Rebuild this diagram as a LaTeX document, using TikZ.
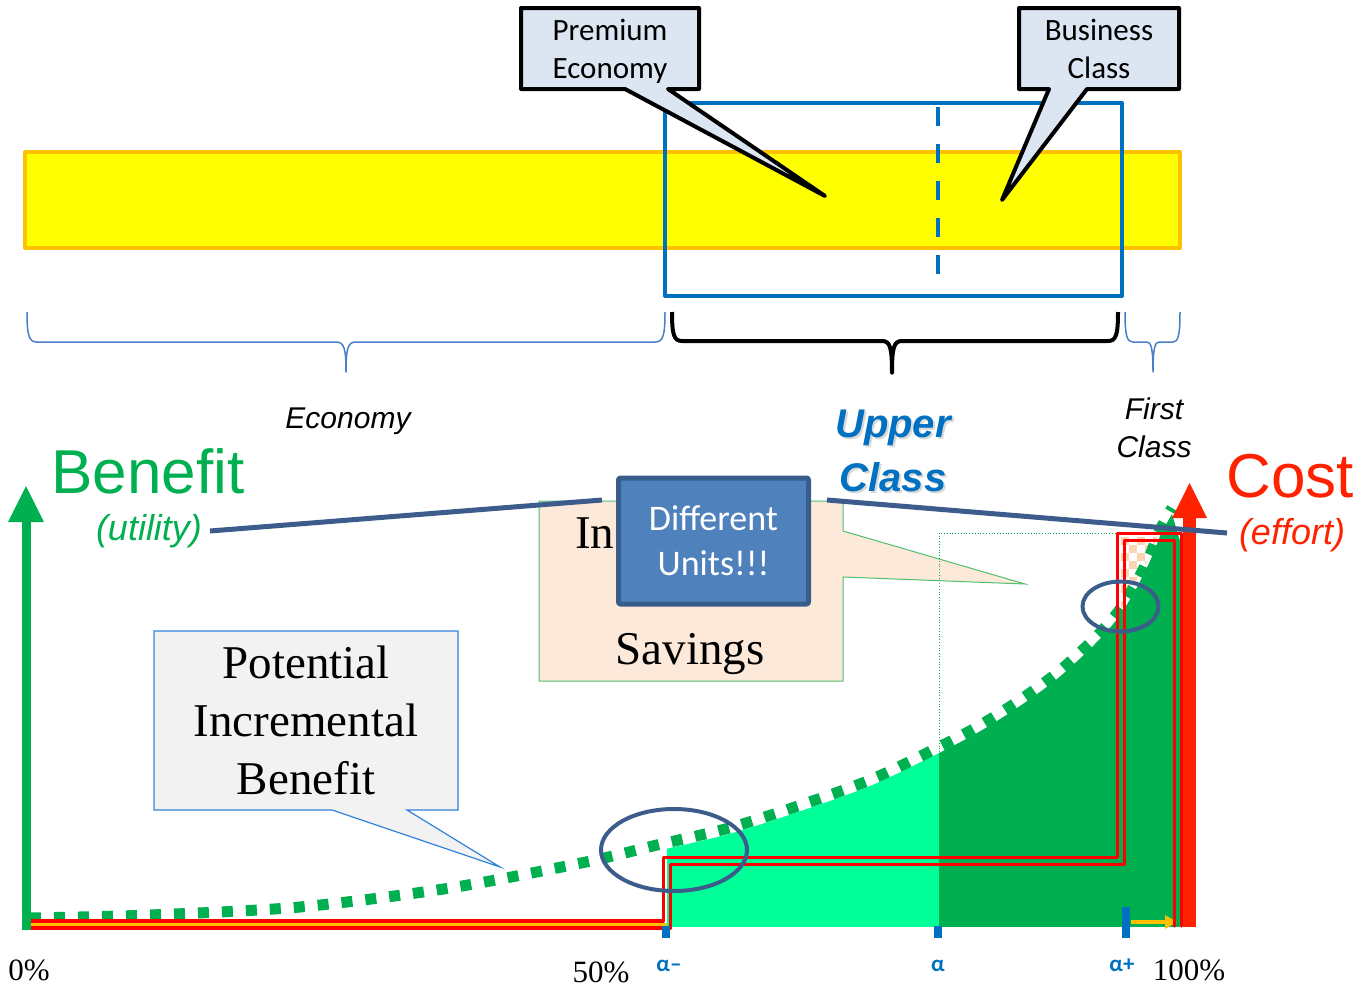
\documentclass[tikz,border=0pt]{standalone}
\usepackage{fontspec}
\setmainfont{Liberation Serif}
\newfontfamily\arialf{Liberation Sans}
\newfontfamily\calf{Carlito}
\usetikzlibrary{arrows.meta}
\definecolor{barYellow}{RGB}{255,255,0}
\definecolor{barOrange}{RGB}{255,192,0}
\definecolor{msBlue}{RGB}{0,112,192}
\definecolor{calloutFill}{RGB}{220,230,242}
\definecolor{benGreen}{RGB}{0,176,80}
\definecolor{mint}{RGB}{0,255,153}
\definecolor{costRed}{RGB}{255,34,0}
\definecolor{stepRed}{RGB}{255,0,0}
\definecolor{darkLine}{RGB}{60,92,140}
\definecolor{unitFill}{RGB}{79,129,189}
\definecolor{unitDraw}{RGB}{56,93,138}
\definecolor{peach}{RGB}{253,233,217}
\definecolor{checkPeach}{RGB}{251,212,180}
\definecolor{greyFill}{RGB}{242,242,242}
\definecolor{thinBlue}{RGB}{50,130,220}
\definecolor{braceBlue}{RGB}{74,126,200}
\definecolor{savGreen}{RGB}{80,190,110}
\tikzset{
  bracethin/.style={draw=braceBlue, line width=1.5pt},
  bracethick/.style={draw=black, line width=4pt},
  calltxt/.style={inner sep=0pt, anchor=base, font=\calf\fontsize{31}{38}\selectfont},
  steplinered/.style={draw=stepRed, line width=3.5pt, line join=round, line cap=round},
  ticktxt/.style={inner sep=0pt, anchor=base, text=msBlue, font=\calf\bfseries\fontsize{23}{26}\selectfont},
  pcttxt/.style={inner sep=0pt, anchor=base, font=\fontsize{31}{36}\selectfont},
  serifbig/.style={inner sep=0pt, font=\fontsize{47}{58}\selectfont}
}
\begin{document}
\begin{tikzpicture}[x=1pt,y=-1pt,line join=round]
\useasboundingbox (0,0) rectangle (1366,988);

% ---------- top band ----------
\draw[barOrange, line width=4pt, fill=barYellow] (25,152) rectangle (1180,248);
\draw[msBlue, line width=4pt] (665,103) rectangle (1122,296);
\draw[msBlue, line width=4pt, dash pattern=on 19pt off 18pt] (938,107) -- (938,278);

% Premium Economy callout
\draw[black, line width=4pt, fill=calloutFill]
  (521,8) -- (699,8) -- (699,89) -- (668,89) -- (825,196) -- (625,89) -- (521,89) -- cycle;
\node[calltxt] (prem1) at (610,40) {Premium};
\node[calltxt] (prem2) at (610,78) {Economy};

% Business Class callout
\draw[black, line width=4pt, fill=calloutFill]
  (1019,8) -- (1179,8) -- (1179,89) -- (1087,89) -- (1002,200) -- (1049,89) -- (1019,89) -- cycle;
\node[calltxt] (bus1) at (1099,40) {Business};
\node[calltxt] (bus2) at (1099,78) {Class};

% ---------- braces ----------
\draw[bracethin] (27,312) .. controls (27,336) and (29,342) .. (37,342) -- (336,342)
  .. controls (344,342) and (346,348) .. (346,372)
  .. controls (346,348) and (348,342) .. (356,342) -- (655,342)
  .. controls (663,342) and (665,336) .. (665,312);
\draw[bracethick] (672,312) .. controls (672,335) and (674,341) .. (682,341) -- (882,341)
  .. controls (890,341) and (892,347) .. (892,373)
  .. controls (892,347) and (894,341) .. (902,341) -- (1108,341)
  .. controls (1116,341) and (1118,335) .. (1118,312);
\draw[bracethin] (1125,312) .. controls (1125,336) and (1127,342) .. (1133,342) -- (1147,342)
  .. controls (1151,342) and (1153,348) .. (1153,372)
  .. controls (1153,348) and (1155,342) .. (1159,342) -- (1173,342)
  .. controls (1178,342) and (1180,336) .. (1180,312);

\node[inner sep=0pt, anchor=base, font=\arialf\itshape\fontsize{30}{36}\selectfont] (econ) at (348,428) {Economy};
\node[inner sep=0pt, align=center, text=gray!30, font=\arialf\bfseries\itshape\fontsize{40}{54}\selectfont] (uppershadow) at (895,453) {Upper\\Class};
\node[inner sep=0pt, align=center, text=msBlue, font=\arialf\bfseries\itshape\fontsize{40}{54}\selectfont] (upper) at (893,451) {Upper\\Class};
\node[inner sep=0pt, align=center, font=\arialf\itshape\fontsize{30}{38}\selectfont] (first) at (1154,428) {First\\Class};

% ---------- Potential Incremental Benefit callout ----------
\draw[thinBlue, line width=1.2pt, fill=greyFill, line join=miter]
  (154,631) -- (458,631) -- (458,810) -- (407,810) -- (500,867) -- (332,810) -- (154,810) -- cycle;
\node[serifbig, align=center] (potential) at (306,720) {Potential\\Incremental\\Benefit};

% ---------- Incremental Savings callout ----------
\draw[savGreen, line width=1pt, fill=peach, line join=miter]
  (539,501) -- (843,501) -- (843,531) -- (1025,584) -- (843,577) -- (843,681) -- (539,681) -- cycle;
\node[serifbig, anchor=base west] (inc) at (575,548) {In};
\node[serifbig, anchor=base] (sav) at (690,664) {Savings};

% ---------- filled areas under the curve ----------
\begin{scope}
  \clip (667,400) rectangle (939,926);
  \begin{scope}[yshift=-6pt]
    \fill[mint] plot[smooth] coordinates {(30,918) (150,915) (300,907) (450,888) (586,862) (657,845) (729,828) (798,806) (870,780) (933,750) (977,727) (1017,702) (1057,673) (1093,640) (1118,612) (1136,583) (1150,555) (1161,528) (1172,508)} -- (1300,940) -- (0,940) -- cycle;
  \end{scope}
\end{scope}
\begin{scope}
  \clip (939,400) rectangle (1180,926);
  \begin{scope}[yshift=-6pt]
    \fill[benGreen] plot[smooth] coordinates {(30,918) (150,915) (300,907) (450,888) (586,862) (657,845) (729,828) (798,806) (870,780) (933,750) (977,727) (1017,702) (1057,673) (1093,640) (1118,612) (1136,583) (1150,555) (1161,528) (1172,508)} -- (1300,940) -- (0,940) -- cycle;
  \end{scope}
\end{scope}
% checker region
\begin{scope}
  \clip (1121,537) rectangle (1178,700);
  \clip plot[smooth] coordinates {(30,918) (150,915) (300,907) (450,888) (586,862) (657,845) (729,828) (798,806) (870,780) (933,750) (977,727) (1017,702) (1057,673) (1093,640) (1118,612) (1136,583) (1150,555) (1161,528) (1172,508)} -- (1300,300) -- (0,300) -- cycle;
  \foreach \cx in {1121,1137,...,1185} {
    \foreach \cy in {537,553,...,650} {
      \fill[checkPeach] (\cx,\cy) rectangle ++(8,8);
      \fill[checkPeach] (\cx+8,\cy+8) rectangle ++(8,8);
    }
  }
\end{scope}

% thin dotted outline
\draw[benGreen, line width=0.8pt, dotted] (939,752) -- (939,533) -- (1117,533);

% dotted benefit curve
\draw[benGreen, line width=11pt, dash pattern=on 11pt off 13pt]
  plot[smooth] coordinates {(30,918) (150,915) (300,907) (450,888) (586,862) (657,845) (729,828) (798,806) (870,780) (933,750) (977,727) (1017,702) (1057,673) (1093,640) (1118,612) (1136,583) (1150,555) (1161,528) (1172,508)};

% yellow axis line and arrow
\draw[barOrange, line width=3pt] (28,924.5) -- (667,924.5);
\draw[barOrange, line width=3.5pt, -{Triangle[length=12pt,width=13pt]}] (1131,922) -- (1177,922);

% red step (double line)
\draw[steplinered] (28,921) -- (663.5,921) -- (663.5,857.5) -- (1117.5,857.5) -- (1117.5,533.5) -- (1181.5,533.5) -- (1181.5,926);
\draw[steplinered] (28,928) -- (670.5,928) -- (670.5,864.5) -- (1124.5,864.5) -- (1124.5,540.5) -- (1174.5,540.5) -- (1174.5,926);

% ticks
\fill[msBlue] (662,926) rectangle (670,938);
\fill[msBlue] (934,926) rectangle (942,938);
\fill[msBlue] (1122,907) rectangle (1130,938);

% axes
\fill[benGreen] (21.5,930) rectangle (30.5,518);
\fill[benGreen] (8,522) -- (44,522) -- (26,486) -- cycle;
\fill[costRed] (1183,927) rectangle (1196,515);
\fill[costRed] (1172,518) -- (1207,518) -- (1189.5,483) -- cycle;

% ellipses
\draw[darkLine, line width=4pt] (674,850) ellipse [x radius=73pt, y radius=41pt];
\draw[darkLine, line width=4pt] (1120.5,606.5) ellipse [x radius=38pt, y radius=25pt];

% Different Units box
\node[draw=unitDraw, fill=unitFill, line width=5pt, rounded corners=2pt,
      minimum width=190pt, minimum height=126pt, inner sep=0pt,
      text=white, align=center, font=\calf\fontsize{36}{45}\selectfont] (units) at (713.5,541) {Different\\Units!!!};

% labels Benefit / Cost
\node[inner sep=0pt, anchor=base, text=benGreen, font=\arialf\fontsize{62}{70}\selectfont] (benefit) at (148,493) {Benefit};
\node[inner sep=0pt, text=benGreen, font=\arialf\itshape\fontsize{36}{40}\selectfont] (utility) at (149,531) {(utility)};
\node[inner sep=0pt, anchor=base, text=costRed, font=\arialf\fontsize{62}{70}\selectfont] (cost) at (1290,497) {Cost};
\node[inner sep=0pt, text=costRed, font=\arialf\itshape\fontsize{36}{40}\selectfont] (effort) at (1292,535) {(effort)};

% connecting lines
\coordinate (la) at (210,531);
\coordinate (lb) at (602,500);
\coordinate (ra) at (827,500);
\coordinate (rb) at (1227,533);
\draw[darkLine, line width=5pt] (la) -- (lb);
\draw[darkLine, line width=5pt] (ra) -- (rb);

% bottom labels
\node[pcttxt] (p0) at (29,980) {0\%};
\node[pcttxt] (p50) at (601,982) {50\%};
\node[pcttxt] (p100) at (1189,980) {100\%};
\node[ticktxt] (am) at (669,971) {α–};
\node[ticktxt] (a0) at (938,971) {α};
\node[ticktxt] (ap) at (1122,971) {α+};
\end{tikzpicture}
\end{document}
